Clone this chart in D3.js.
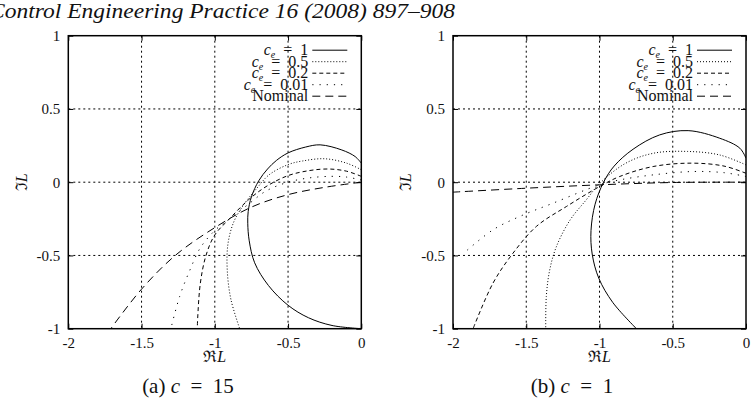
<!DOCTYPE html>
<html>
<head>
<meta charset="utf-8">
<script src="https://cdn.jsdelivr.net/npm/d3@7/dist/d3.min.js"></script>
<style>
  body { margin: 0; background: #fff; }
  svg { display: block; }
  text { font-family: "Liberation Serif", "Times New Roman", serif; fill: #111; }
</style>
</head>
<body>
<div id="app"></div>
<script>
// tick values / labels
const xTicks = [-2, -1.5, -1, -0.5, 0]
const xTickLabels = ["-2", "-1.5", "-1", "-0.5", "0"]
const yTicks = [-1, -0.5, 0, 0.5, 1]
const yTickLabels = ["-1", "-0.5", "0", "0.5", "1"]
const xGrid = [-1.5, -1, -0.5]
const yGrid = [-0.5, 0, 0.5]

const legendValues = ["1", "0.5", "0.2", "0.01"]
const nominalLabel = "Nominal"

// (a) c = 15, [Re L, Im L]
const a_ce1 = [[0,0.13],[-0.042,0.175],[-0.133,0.22],[-0.281,0.255],[-0.38,0.24],[-0.5,0.2],[-0.58,0.148],[-0.64,0.09],[-0.7,0.01],[-0.75,-0.1],[-0.772,-0.2],[-0.775,-0.28],[-0.765,-0.4],[-0.728,-0.55],[-0.634,-0.705],[-0.5,-0.84],[-0.361,-0.925],[-0.2,-0.978],[0,-1]]
const a_ce05 = [[0,0.085],[-0.1,0.13],[-0.25,0.16],[-0.4,0.145],[-0.5,0.12],[-0.63,0.05],[-0.72,-0.05],[-0.8,-0.15],[-0.87,-0.27],[-0.91,-0.42],[-0.915,-0.6],[-0.89,-0.8],[-0.83,-1]]
const a_ce02 = [[0,0.04],[-0.1,0.075],[-0.22,0.09],[-0.35,0.08],[-0.5,0.045],[-0.65,-0.03],[-0.77,-0.12],[-0.9,-0.25],[-1.0,-0.36],[-1.06,-0.5],[-1.1,-0.7],[-1.12,-1]]
const a_ce001 = [[0,0.015],[-0.1,0.035],[-0.2,0.04],[-0.35,0.03],[-0.5,0.0],[-0.65,-0.06],[-0.77,-0.15],[-0.9,-0.25],[-1.0,-0.33],[-1.1,-0.45],[-1.17,-0.6],[-1.24,-0.78],[-1.3,-1]]
const a_nom = [[0,0],[-0.25,-0.035],[-0.5,-0.085],[-0.75,-0.17],[-1,-0.31],[-1.27,-0.5],[-1.5,-0.73],[-1.71,-1]]

// (b) c = 1
const b_ce1 = [[0,0.164],[-0.042,0.232],[-0.179,0.3],[-0.395,0.352],[-0.589,0.323],[-0.771,0.225],[-0.9,0.11],[-0.972,0],[-1.03,-0.15],[-1.058,-0.33],[-1.05,-0.49],[-1.005,-0.655],[-0.91,-0.82],[-0.748,-1]]
const b_ce05 = [[0,0.118],[-0.18,0.186],[-0.4,0.21],[-0.63,0.198],[-0.82,0.13],[-1.0,-0.01],[-1.09,-0.12],[-1.2,-0.257],[-1.294,-0.439],[-1.34,-0.6],[-1.363,-0.78],[-1.367,-1]]
const b_ce02 = [[0,0.061],[-0.15,0.11],[-0.372,0.13],[-0.634,0.107],[-0.862,0.039],[-1,-0.03],[-1.226,-0.166],[-1.431,-0.302],[-1.59,-0.484],[-1.727,-0.689],[-1.863,-1]]
const b_ce001 = [[0,0.039],[-0.15,0.065],[-0.361,0.073],[-0.634,0.05],[-0.86,0.016],[-1,-0.018],[-1.317,-0.143],[-1.545,-0.234],[-1.727,-0.325],[-1.91,-0.47]]
const b_nom = [[0,0],[-0.5,-0.002],[-1,-0.018],[-1.5,-0.041],[-2,-0.068]]

const styles = [
    { dash: null },      // ce = 1
    { dash: "1,2" },     // ce = 0.5
    { dash: "4,3" },     // ce = 0.2
    { dash: "1.2,6" },   // ce = 0.01
    { dash: "8,5" }      // nominal
]

const svg = d3.select('#app').append('svg')
    .attr('width', 754)
    .attr('height', 400)

svg.append('text')
    .attr('x', -11)
    .attr('y', 18)
    .attr('font-size', 21)
    .attr('font-style', 'italic')
    .attr('textLength', 466)
    .attr('lengthAdjust', 'spacingAndGlyphs')
    .attr('fill', '#1a1a1a')
    .text("Control Engineering Practice 16 (2008) 897\u2013908")

function panel(id, left, series, caption, captionX, labelX) {
    const top = 35.7, size = 293
    const x = d3.scaleLinear().domain([-2, 0]).range([left, left + size])
    const y = d3.scaleLinear().domain([-1, 1]).range([top + size, top])
    const g = svg.append('g')

    g.append('clipPath').attr('id', 'clip' + id)
        .append('rect')
        .attr('x', left).attr('y', top).attr('width', size).attr('height', size)

    // grid
    g.selectAll('.vgrid').data(xGrid).enter().append('line')
        .attr('x1', d => x(d)).attr('x2', d => x(d))
        .attr('y1', top).attr('y2', top + size)
        .attr('stroke', '#000').attr('stroke-width', 1).attr('stroke-dasharray', '2,3')
    g.selectAll('.hgrid').data(yGrid).enter().append('line')
        .attr('x1', left).attr('x2', left + size)
        .attr('y1', d => y(d)).attr('y2', d => y(d))
        .attr('stroke', '#000').attr('stroke-width', 1).attr('stroke-dasharray', '2,3')

    // curves
    const line = d3.line().x(d => x(d[0])).y(d => y(d[1])).curve(d3.curveCatmullRom.alpha(0.5))
    const cg = g.append('g').attr('clip-path', `url(#clip${id})`)
    series.forEach((s, i) => {
        cg.append('path')
            .attr('d', line(s))
            .attr('fill', 'none')
            .attr('stroke', '#000')
            .attr('stroke-width', 1)
            .attr('stroke-dasharray', styles[i].dash)
    })

    // axes (ticks inward, mirrored)
    const xAxisB = d3.axisBottom(x).tickValues(xTicks).tickSize(-5).tickPadding(9).tickFormat((d, i) => xTickLabels[i])
    const xAxisT = d3.axisTop(x).tickValues(xTicks).tickSize(-5).tickFormat('')
    const yAxisL = d3.axisLeft(y).tickValues(yTicks).tickSize(-5).tickPadding(8).tickFormat((d, i) => yTickLabels[i])
    const yAxisR = d3.axisRight(y).tickValues(yTicks).tickSize(-5).tickFormat('')

    const axes = [
        g.append('g').attr('transform', `translate(0,${top + size})`).call(xAxisB),
        g.append('g').attr('transform', `translate(0,${top})`).call(xAxisT),
        g.append('g').attr('transform', `translate(${left},0)`).call(yAxisL),
        g.append('g').attr('transform', `translate(${left + size},0)`).call(yAxisR)
    ]
    axes.forEach(a => {
        a.select('.domain').remove()
        a.selectAll('line').attr('stroke', '#000')
        a.selectAll('text')
            .attr('font-family', '"Liberation Serif", serif')
            .attr('font-size', 15)
            .attr('fill', '#222')
    })

    // frame
    g.append('rect')
        .attr('x', left).attr('y', top).attr('width', size).attr('height', size)
        .attr('fill', 'none').attr('stroke', '#000').attr('stroke-width', 1.5)

    // legend
    const legendRows = legendValues.map(v => ({ v: v })).concat([{ nominal: true }])
    const rowY = d3.scaleLinear().domain([0, 4]).range([top + 14.5, top + 60.5])
    legendRows.forEach((r, i) => {
        const t = g.append('text')
            .attr('x', left + size - 53)
            .attr('y', rowY(i) + 5)
            .attr('text-anchor', 'end')
            .attr('font-size', 16)
            .attr('fill', '#222')
        if (r.nominal) {
            t.text(nominalLabel)
        } else {
            t.append('tspan').attr('font-style', 'italic').text('c')
            t.append('tspan').attr('font-style', 'italic').attr('font-size', 10).attr('dy', 3).text('e')
            t.append('tspan').attr('dy', -3).text('\u2002=\u2002' + r.v)
        }
        g.append('line')
            .attr('x1', left + size - 49).attr('x2', left + size - 14)
            .attr('y1', rowY(i)).attr('y2', rowY(i))
            .attr('stroke', '#000').attr('stroke-width', 1)
            .attr('stroke-dasharray', styles[i].dash)
    })

    // axis titles
    const xl = g.append('text')
        .attr('x', left + size / 2).attr('y', 362)
        .attr('text-anchor', 'middle').attr('font-size', 16).attr('fill', '#222')
    xl.append('tspan').text('\u211C')
    xl.append('tspan').attr('font-style', 'italic').text('L')

    const yl = g.append('text')
        .attr('transform', `translate(${labelX},${top + size / 2}) rotate(-90)`)
        .attr('text-anchor', 'middle').attr('font-size', 16).attr('fill', '#222')
    yl.append('tspan').text('\u2111')
    yl.append('tspan').attr('font-style', 'italic').text('L')

    // caption
    const cap = g.append('text')
        .attr('x', captionX).attr('y', 393)
        .attr('text-anchor', 'middle').attr('font-size', 21)
    cap.append('tspan').text(caption[0] + ' ')
    cap.append('tspan').attr('font-style', 'italic').text('c')
    cap.append('tspan').text('\u2002=\u2002' + caption[1])
}

panel('a', 68.3, [a_ce1, a_ce05, a_ce02, a_ce001, a_nom], ['(a)', '15'], 188, 27)
panel('b', 453, [b_ce1, b_ce05, b_ce02, b_ce001, b_nom], ['(b)', '1'], 572, 411)
</script>
</body>
</html>
